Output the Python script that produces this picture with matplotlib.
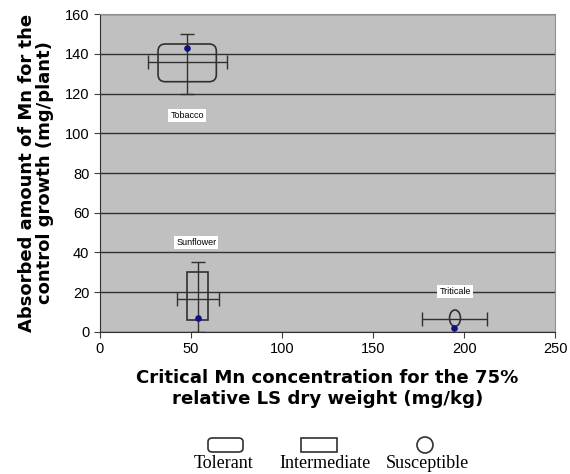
import numpy as np
import matplotlib.pyplot as plt
from matplotlib.patches import FancyBboxPatch, Rectangle, Ellipse

plt.rcParams['font.family'] = ['Liberation Sans', 'DejaVu Sans']

# data
crops = ['Tobacco', 'Sunflower', 'Triticale']
crit_mn = [48, 54, 194.5]          # x of the points
absorbed = [143, 7, 2]             # y of the points
err_x = [48, 54, 195]              # centre of error bars
err_y = [136, 16.6, 6.5]
xerr_lo = [21.7, 11.7, 18.3]
xerr_hi = [21.8, 11.4, 17.6]
yerr_lo = [16, 16.6, 0]
yerr_hi = [14, 18.8, 0]
# group boxes (x0, x1, y0, y1)
box_x0 = [32, 48, 192]
box_x1 = [64, 59.3, 198]
box_y0 = [126, 6, 2.7]
box_y1 = [145, 30.3, 11]
groups = ['Tolerant', 'Intermediate', 'Susceptible']
label_x = [48, 53, 195]
label_y = [109, 45, 20.3]

fig = plt.figure(figsize=(5.7, 4.74), dpi=100)
ax = fig.add_axes([0.175, 0.300, 0.799, 0.670])
ax.set_facecolor('#c0c0c0')
ax.set_xlim(0, 250)
ax.set_ylim(0, 160)
ax.set_xticks(np.arange(0, 251, 50))
ax.set_yticks(np.arange(0, 161, 20))
ax.yaxis.grid(True, color='#303030', lw=1.0)
ax.set_axisbelow(True)
ax.tick_params(labelsize=10.5, length=4, color='#404040')
for s in ['top', 'right']:
    ax.spines[s].set_color('#909090')
for s in ['left', 'bottom']:
    ax.spines[s].set_color('#303030')

ec = '#303030'
for i in range(3):
    w = box_x1[i] - box_x0[i]
    h = box_y1[i] - box_y0[i]
    if groups[i] == 'Tolerant':
        p = FancyBboxPatch((box_x0[i], box_y0[i]), w, h,
                           boxstyle='round,pad=0,rounding_size=4',
                           mutation_aspect=0.9, fc='none', ec=ec, lw=1.2)
    elif groups[i] == 'Intermediate':
        p = Rectangle((box_x0[i], box_y0[i]), w, h, fc='none', ec=ec, lw=1.2)
    else:
        p = Ellipse(((box_x0[i] + box_x1[i]) / 2, (box_y0[i] + box_y1[i]) / 2),
                    w, h, fc='none', ec=ec, lw=1.2)
    ax.add_patch(p)

for i in range(3):
    ax.errorbar(err_x[i], err_y[i],
                xerr=[[xerr_lo[i]], [xerr_hi[i]]],
                yerr=[[yerr_lo[i]], [yerr_hi[i]]] if yerr_hi[i] > 0 else None,
                fmt='none', ecolor=ec, elinewidth=1.0, capsize=5, capthick=1.0)

ax.scatter(crit_mn, absorbed, s=14, color='#101080', zorder=5, clip_on=False)

for i in range(3):
    ax.text(label_x[i], label_y[i], crops[i], fontsize=6.5, ha='center', va='center',
            bbox=dict(fc='white', ec='none', pad=1.5))

bold = ['DejaVu Sans']
ax.set_xlabel('Critical Mn concentration for the 75%\nrelative LS dry weight (mg/kg)',
              fontsize=13.1, fontweight='bold', family=bold, labelpad=9,
              linespacing=1.2)
ax.set_ylabel('Absorbed amount of Mn for the\ncontrol growth (mg/plant)',
              fontsize=13.0, fontweight='bold', family=bold, labelpad=8,
              linespacing=1.0)

# legend at the bottom
serif = ['Liberation Serif', 'DejaVu Serif']
fig.patches.append(FancyBboxPatch((208 / 570, 1 - 452 / 474), 35 / 570, 14 / 474,
                                  boxstyle='round,pad=0,rounding_size=0.008',
                                  transform=fig.transFigure, fc='none', ec='#303030', lw=1.2))
fig.patches.append(Rectangle((301 / 570, 1 - 452 / 474), 36 / 570, 14 / 474,
                             transform=fig.transFigure, fc='none', ec='#303030', lw=1.2))
fig.patches.append(Ellipse((425 / 570, 1 - 445 / 474), 16 / 570, 16 / 474,
                           transform=fig.transFigure, fc='none', ec='#303030', lw=1.2))
for lx, name in zip([224, 325, 427], groups):
    fig.text(lx / 570, 1 - 464 / 474, name, fontsize=13, family=serif,
             ha='center', va='center')

fig.savefig('out.png', dpi=100, facecolor='white')
